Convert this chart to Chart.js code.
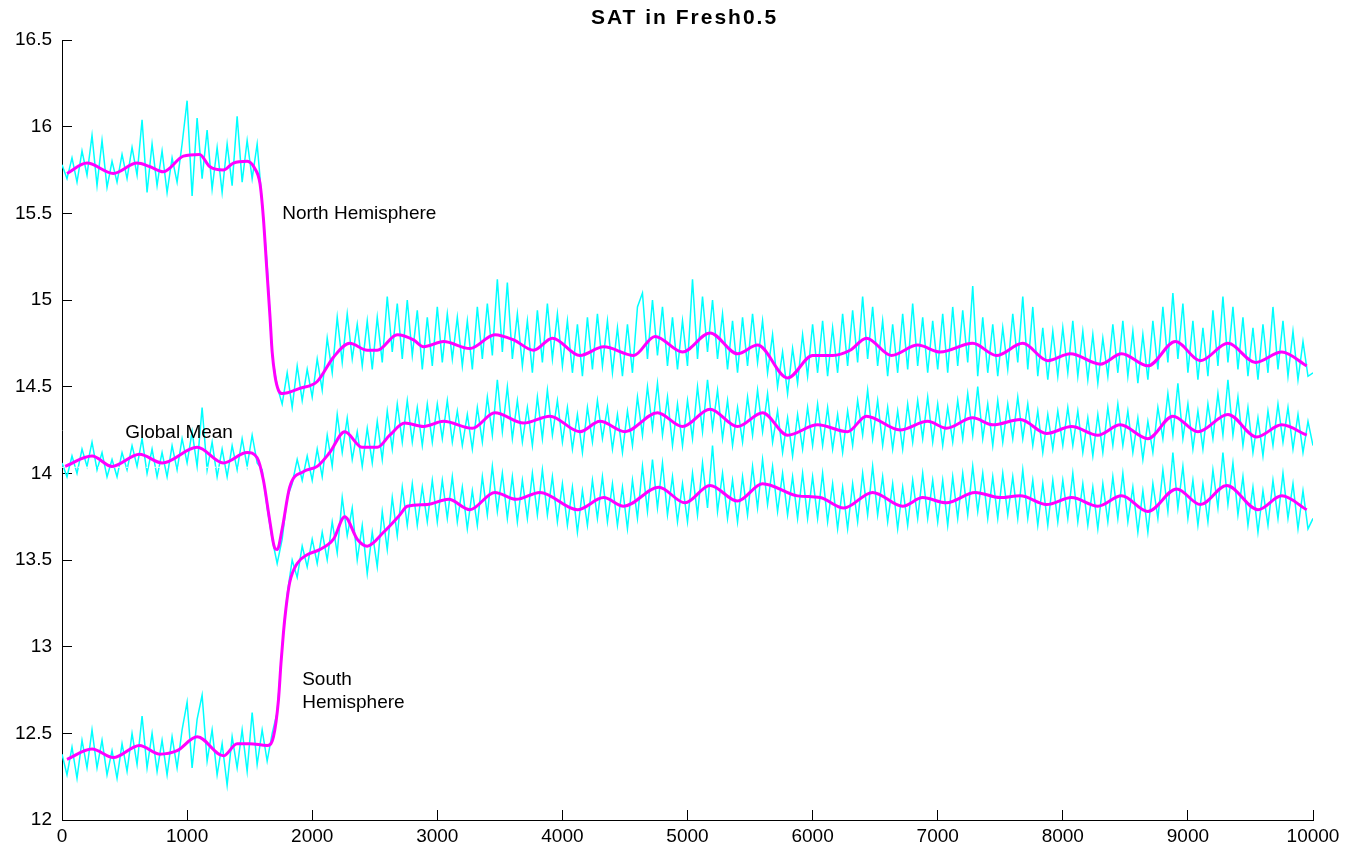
<!DOCTYPE html>
<html>
<head>
<meta charset="utf-8">
<title>SAT in Fresh0.5</title>
<script src="https://cdn.jsdelivr.net/npm/chart.js@4/dist/chart.umd.min.js"></script>
<style>
  html, body { margin: 0; padding: 0; background: #ffffff; }
  canvas { display: block; }
</style>
</head>
<body>
<canvas id="sat" width="1345" height="847"></canvas>
<script>
// Surface air temperature (degC), sampled every 40 model years from year 0 to 10000
const sampleStart = 0;
const sampleStep = 40;

const nhAnnual = [
  15.78,15.70,15.82,15.68,15.86,15.72,15.95,15.66,15.92,15.65,15.80,15.68,15.84,15.70,15.88,15.72,16.04,15.62,15.90,15.66,15.86,15.62,15.82,15.68,15.90,
  16.15,15.60,16.05,15.70,15.98,15.64,15.88,15.62,15.90,15.66,16.06,15.68,15.92,15.70,15.90,15.56,15.20,14.68,14.50,14.40,14.58,14.38,14.62,14.42,14.60,
  14.44,14.66,14.48,14.78,14.58,14.90,14.64,14.92,14.66,14.86,14.62,14.88,14.60,14.90,14.64,15.02,14.70,14.98,14.66,15.00,14.68,14.94,14.60,14.90,14.62,
  14.96,14.64,14.92,14.66,14.90,14.62,14.88,14.60,14.96,14.66,14.98,14.68,15.12,14.70,15.10,14.66,14.92,14.62,14.88,14.58,14.94,14.64,14.98,14.66,14.92,
  14.62,14.88,14.58,14.86,14.56,14.90,14.60,14.92,14.62,14.88,14.58,14.84,14.56,14.86,14.58,14.96,15.04,14.66,15.00,14.68,14.96,14.62,14.90,14.60,14.88,
  14.62,15.12,14.66,15.02,14.70,15.00,14.66,14.92,14.60,14.88,14.58,14.90,14.62,14.92,14.64,14.88,14.58,14.80,14.50,14.70,14.46,14.72,14.52,14.80,14.56,
  14.86,14.58,14.88,14.56,14.84,14.58,14.92,14.62,14.94,14.64,15.02,14.66,14.96,14.62,14.88,14.56,14.86,14.58,14.92,14.60,14.98,14.62,14.90,14.58,14.88,
  14.60,14.92,14.58,14.96,14.62,14.94,14.64,15.08,14.56,14.90,14.58,14.86,14.56,14.84,14.60,14.92,14.64,15.02,14.60,14.96,14.56,14.84,14.54,14.82,14.56,
  14.84,14.58,14.88,14.56,14.82,14.54,14.80,14.52,14.78,14.56,14.86,14.58,14.88,14.56,14.82,14.52,14.80,14.54,14.88,14.60,14.96,14.64,15.04,14.66,14.98,
  14.58,14.88,14.54,14.84,14.56,14.94,14.62,15.02,14.64,14.96,14.60,14.90,14.56,14.84,14.54,14.86,14.58,14.96,14.60,14.88,14.56,14.82,14.54,14.76,14.56,14.58
];

const gmAnnual = [
  14.06,13.98,14.10,14.00,14.14,14.04,14.18,14.02,14.12,13.98,14.08,13.98,14.12,14.02,14.16,14.04,14.20,14.00,14.14,13.98,14.12,13.98,14.16,14.02,14.20,
  14.06,14.24,14.04,14.38,14.02,14.18,13.98,14.14,13.98,14.16,14.02,14.20,14.04,14.22,14.06,14.02,13.80,13.62,13.48,13.62,13.86,13.94,14.08,13.96,14.10,
  13.96,14.14,13.98,14.22,14.04,14.34,14.12,14.32,14.08,14.24,14.04,14.26,14.06,14.30,14.08,14.36,14.14,14.40,14.18,14.42,14.18,14.38,14.16,14.40,14.18,
  14.40,14.20,14.42,14.18,14.36,14.16,14.34,14.14,14.38,14.18,14.44,14.22,14.54,14.24,14.50,14.20,14.42,14.18,14.38,14.16,14.44,14.20,14.48,14.22,14.42,
  14.18,14.38,14.14,14.34,14.12,14.38,14.18,14.42,14.20,14.38,14.14,14.34,14.12,14.36,14.16,14.44,14.22,14.50,14.26,14.52,14.22,14.44,14.16,14.40,14.16,
  14.42,14.20,14.50,14.24,14.54,14.26,14.48,14.20,14.42,14.16,14.38,14.18,14.44,14.22,14.48,14.24,14.46,14.18,14.36,14.12,14.32,14.10,14.34,14.14,14.38,
  14.16,14.40,14.16,14.38,14.14,14.34,14.12,14.36,14.16,14.42,14.22,14.48,14.20,14.42,14.16,14.38,14.14,14.36,14.14,14.40,14.18,14.42,14.20,14.44,14.18,
  14.40,14.16,14.38,14.18,14.42,14.20,14.46,14.22,14.50,14.20,14.40,14.16,14.42,14.18,14.40,14.20,14.44,14.20,14.40,14.16,14.36,14.12,14.34,14.14,14.36,
  14.16,14.38,14.16,14.36,14.12,14.32,14.10,14.34,14.12,14.38,14.16,14.40,14.16,14.36,14.12,14.32,14.08,14.30,14.12,14.38,14.20,14.46,14.22,14.52,14.20,
  14.40,14.14,14.36,14.14,14.40,14.20,14.46,14.22,14.54,14.22,14.44,14.16,14.38,14.12,14.32,14.10,14.36,14.16,14.40,14.18,14.38,14.14,14.34,14.12,14.30,14.16
];

const shAnnual = [
  12.38,12.26,12.42,12.24,12.46,12.30,12.52,12.30,12.46,12.26,12.40,12.24,12.44,12.28,12.50,12.32,12.60,12.30,12.50,12.28,12.46,12.26,12.48,12.30,12.52,
  12.68,12.30,12.58,12.72,12.34,12.52,12.26,12.44,12.20,12.48,12.30,12.52,12.28,12.62,12.32,12.52,12.34,12.50,12.62,13.00,13.30,13.50,13.40,13.58,13.46,
  13.62,13.48,13.66,13.50,13.72,13.54,13.86,13.64,13.80,13.50,13.70,13.42,13.66,13.46,13.78,13.56,13.86,13.64,13.92,13.70,13.94,13.70,13.92,13.72,13.96,
  13.72,13.96,13.74,13.98,13.72,13.92,13.68,13.90,13.70,13.98,13.76,14.04,13.78,14.00,13.74,13.98,13.72,13.96,13.74,14.00,13.76,14.02,13.76,13.98,13.72,
  13.94,13.70,13.92,13.66,13.90,13.70,13.96,13.74,13.98,13.72,13.94,13.70,13.92,13.68,13.96,13.74,14.04,13.78,14.08,13.80,14.06,13.76,13.98,13.72,13.94,
  13.72,14.00,13.76,14.06,13.80,14.16,13.78,14.00,13.74,13.96,13.72,13.98,13.76,14.04,13.80,14.08,13.82,14.04,13.78,14.00,13.76,13.98,13.74,14.00,13.74,
  13.98,13.74,14.00,13.72,13.94,13.68,13.92,13.68,13.94,13.72,14.00,13.76,14.04,13.76,13.98,13.72,13.94,13.68,13.92,13.70,13.96,13.74,14.00,13.74,13.96,
  13.72,13.96,13.70,13.98,13.74,14.00,13.76,14.04,13.78,14.00,13.74,13.98,13.74,14.00,13.76,13.98,13.74,14.02,13.74,13.96,13.70,13.94,13.70,13.96,13.72,
  13.96,13.74,14.00,13.72,13.94,13.70,13.92,13.68,13.94,13.72,13.98,13.74,14.00,13.72,13.92,13.66,13.90,13.66,13.94,13.74,14.02,13.78,14.12,13.80,14.04,
  13.74,13.96,13.70,13.94,13.72,14.02,13.80,14.12,13.82,14.06,13.76,13.98,13.70,13.92,13.66,13.90,13.70,13.96,13.74,14.00,13.74,13.94,13.68,13.90,13.68,13.74
];

// Running-mean curves (year, degC)
const nhMeanYears = [40,200,410,600,700,810,970,1100,1180,1290,1370,1480,1540,1583,1609,1636,1663,1680,1703,1730,1760,1900,2040,2170,2300,2440,2520,2680,2810,2890,3050,3260,3460,3610,3770,3920,4140,4330,4570,4740,4960,5180,5400,5560,5800,6000,6160,6300,6430,6630,6840,7020,7280,7470,7680,7880,8060,8300,8470,8680,8900,9100,9320,9540,9750,9950];
const nhMean = [15.73,15.79,15.73,15.79,15.77,15.74,15.83,15.84,15.77,15.75,15.79,15.80,15.76,15.67,15.48,15.19,14.90,14.70,14.56,14.48,14.46,14.49,14.53,14.67,14.75,14.71,14.71,14.80,14.77,14.73,14.76,14.72,14.80,14.77,14.71,14.78,14.68,14.73,14.68,14.79,14.70,14.81,14.69,14.74,14.55,14.68,14.68,14.71,14.78,14.68,14.74,14.70,14.75,14.68,14.75,14.65,14.69,14.63,14.69,14.62,14.76,14.65,14.75,14.64,14.70,14.62];

const gmMeanYears = [25,240,400,620,800,1080,1290,1480,1560,1610,1660,1700,1720,1760,1820,1930,2040,2140,2260,2400,2520,2620,2740,2890,3050,3280,3460,3690,3900,4140,4300,4500,4760,4960,5180,5400,5600,5800,6040,6280,6430,6700,6920,7070,7280,7440,7660,7870,8070,8280,8460,8680,8880,9080,9320,9550,9750,9950];
const gmMean = [14.04,14.10,14.04,14.11,14.06,14.15,14.06,14.12,14.09,13.96,13.73,13.57,13.56,13.68,13.92,14.01,14.04,14.12,14.24,14.15,14.15,14.22,14.29,14.27,14.30,14.26,14.35,14.29,14.33,14.24,14.30,14.24,14.35,14.27,14.37,14.27,14.35,14.22,14.28,14.24,14.33,14.25,14.30,14.26,14.32,14.28,14.31,14.23,14.27,14.22,14.28,14.20,14.33,14.24,14.34,14.21,14.28,14.22];

const shMeanYears = [40,240,410,620,780,920,1080,1290,1400,1500,1640,1690,1730,1750,1770,1790,1820,1880,1960,2060,2170,2260,2360,2440,2570,2700,2760,2920,3090,3260,3460,3630,3820,4120,4330,4490,4770,4980,5180,5400,5600,5880,6060,6250,6480,6720,6880,7070,7300,7500,7660,7870,8070,8280,8470,8680,8910,9100,9310,9560,9750,9950];
const shMean = [12.35,12.41,12.36,12.43,12.38,12.40,12.48,12.37,12.44,12.44,12.43,12.48,12.69,12.90,13.08,13.22,13.37,13.48,13.53,13.56,13.62,13.75,13.62,13.58,13.66,13.76,13.81,13.82,13.85,13.79,13.89,13.85,13.89,13.79,13.86,13.81,13.92,13.83,13.93,13.84,13.94,13.87,13.86,13.80,13.89,13.81,13.86,13.83,13.89,13.86,13.87,13.82,13.86,13.81,13.87,13.78,13.91,13.82,13.93,13.79,13.87,13.79];

// Pre-perturbation global mean reference level
const gmRefYears = [0, 1620];
const gmRefLevel = [14.035, 14.035];

// Axis ranges and ticks
const xRange = [0, 10000];
const xTickStep = 1000;
const yRange = [12, 16.5];
const yTickStep = 0.5;

// Curve annotations (year, degC)
const curveLabels = [
  { text: 'North Hemisphere', year: 1760, value: 15.50 },
  { text: 'Global Mean',      year: 505,  value: 14.235 },
  { text: 'South',            year: 1920, value: 12.81 },
  { text: 'Hemisphere',       year: 1920, value: 12.675 }
];
const titleText = 'SAT in Fresh0.5';

const FONT = '"Liberation Sans", Arial, Helvetica, sans-serif';

const sampled = vals => vals.map((v, i) => ({ x: sampleStart + i * sampleStep, y: v }));
const paired = (xs, ys) => xs.map((x, i) => ({ x, y: ys[i] }));

const rawStyle = { borderColor: '#00ffff', borderWidth: 1.5, pointRadius: 0, tension: 0, order: 3 };
const meanStyle = { borderColor: '#ff00ff', borderWidth: 3, pointRadius: 0, cubicInterpolationMode: 'monotone', order: 1 };

// Inward ticks push the labels through ticks.padding; keep that padding out of the layout.
const noLabelPadding = s => { s.paddingLeft = 0; s.paddingRight = 0; s.paddingTop = 0; s.paddingBottom = 0; };

const annotate = {
  id: 'annotate',
  afterDatasetsDraw(chart) {
    const { ctx, chartArea, scales } = chart;
    ctx.save();
    ctx.fillStyle = '#000';
    ctx.font = '19px ' + FONT;
    ctx.textAlign = 'left';
    ctx.textBaseline = 'middle';
    for (const l of curveLabels) {
      ctx.fillText(l.text, scales.x.getPixelForValue(l.year), scales.y.getPixelForValue(l.value));
    }
    ctx.font = 'bold 21px ' + FONT;
    ctx.letterSpacing = '2px';
    ctx.textAlign = 'center';
    ctx.fillText(titleText, (chartArea.left + chartArea.right) / 2 - 3, 18);
    ctx.restore();
  }
};

new Chart(document.getElementById('sat'), {
  type: 'line',
  data: {
    datasets: [
      { label: 'NH mean', data: paired(nhMeanYears, nhMean), ...meanStyle },
      { label: 'GM mean', data: paired(gmMeanYears, gmMean), ...meanStyle },
      { label: 'SH mean', data: paired(shMeanYears, shMean), ...meanStyle },
      { label: 'GM ref', data: paired(gmRefYears, gmRefLevel), borderColor: '#ffffff', borderWidth: 1, borderDash: [2, 2], pointRadius: 0, order: 2 },
      { label: 'NH', data: sampled(nhAnnual), ...rawStyle },
      { label: 'GM', data: sampled(gmAnnual), ...rawStyle },
      { label: 'SH', data: sampled(shAnnual), ...rawStyle }
    ]
  },
  options: {
    responsive: false,
    animation: false,
    devicePixelRatio: 1,
    layout: { padding: { left: 0, right: 32, top: 40, bottom: 0 } },
    plugins: { legend: { display: false }, tooltip: { enabled: false }, title: { display: false } },
    scales: {
      x: {
        type: 'linear',
        min: xRange[0], max: xRange[1],
        afterFit: s => { s.height = 27; noLabelPadding(s); },
        border: { display: true, color: '#000', width: 1 },
        grid: { drawOnChartArea: false, drawTicks: true, tickLength: -10, color: '#000', lineWidth: 1 },
        ticks: {
          stepSize: xTickStep, padding: 15, color: '#000', maxRotation: 0, autoSkip: false,
          font: { family: FONT, size: 19 },
          callback: v => String(v)
        }
      },
      y: {
        type: 'linear',
        min: yRange[0], max: yRange[1],
        afterFit: s => { s.width = 62; noLabelPadding(s); },
        border: { display: true, color: '#000', width: 1 },
        grid: { drawOnChartArea: false, drawTicks: true, tickLength: -10, color: '#000', lineWidth: 1 },
        ticks: {
          stepSize: yTickStep, padding: 20, color: '#000', autoSkip: false,
          font: { family: FONT, size: 19 },
          callback: v => String(Math.round(v * 10) / 10)
        }
      }
    }
  },
  plugins: [annotate]
});
</script>
</body>
</html>
